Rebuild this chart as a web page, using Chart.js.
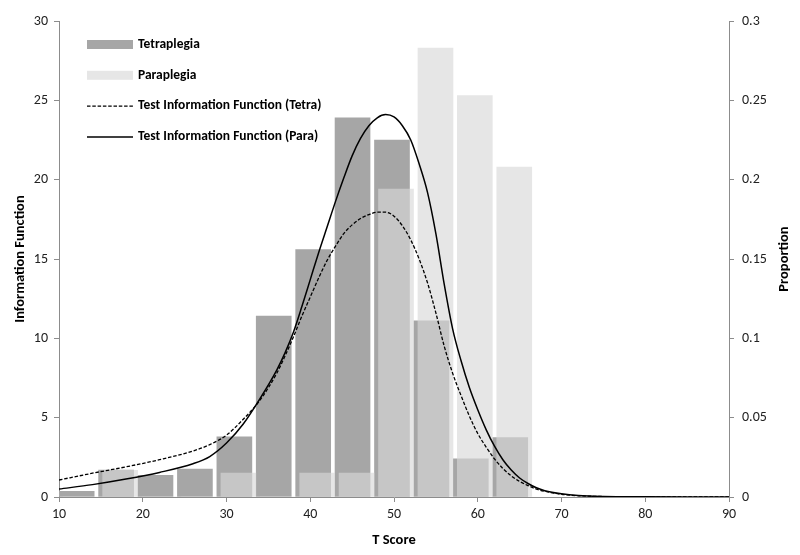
<!DOCTYPE html>
<html lang="en">

<head>
    <meta charset="UTF-8">
    <title>Test Information Function</title>
    <script src="https://cdn.jsdelivr.net/npm/chart.js"></script>
    <style>
        body { margin: 0; background: #fff; }
        .grafico { width: 800px; height: 555px; }
    </style>
</head>

<body>
    <div class="grafico">
        <canvas id="graficoInfo"></canvas>
    </div>
</body>
<script>
    // curvas de informacao (eixo esquerdo)
    var tScore = [10, 14, 18, 22, 26, 28, 30, 32, 34, 36, 37, 38, 39, 40, 41, 42, 43, 44, 45, 46, 47, 48, 49, 50, 51, 52, 53, 54, 55, 56, 57, 58, 59, 60, 61, 62, 63, 64, 65, 66, 67, 68, 70, 72, 75, 80, 85, 90]
    var infoTetra = [1.07, 1.5, 1.9, 2.35, 2.9, 3.3, 3.9, 4.9, 6.1, 7.8, 8.9, 10.1, 11.4, 12.6, 13.8, 14.9, 15.8, 16.6, 17.15, 17.55, 17.8, 17.95, 17.95, 17.7, 17.1, 16.2, 15.0, 13.5, 11.6, 9.5, 7.8, 6.4, 5.1, 4.0, 3.15, 2.4, 1.8, 1.33, 0.98, 0.72, 0.5, 0.36, 0.17, 0.08, 0.03, 0.01, 0.005, 0]
    var infoPara = [0.5, 0.78, 1.13, 1.55, 2.1, 2.55, 3.4, 4.6, 6.2, 8.0, 9.1, 10.4, 12.0, 13.7, 15.4, 17.0, 18.6, 20.1, 21.5, 22.6, 23.4, 23.9, 24.1, 23.95, 23.4, 22.5, 21.0, 19.2, 16.6, 13.4, 10.6, 8.6, 6.9, 5.5, 4.25, 3.2, 2.35, 1.7, 1.2, 0.85, 0.58, 0.4, 0.2, 0.09, 0.03, 0.01, 0.005, 0]

    // proporcoes por faixa de T score (eixo direito)
    var faixas = [12.35, 17.06, 21.76, 26.47, 31.18, 35.88, 40.59, 45.29, 50.0, 54.71, 59.41, 64.12]
    var propTetra = [0.0035, 0.017, 0.0137, 0.0176, 0.038, 0.114, 0.156, 0.239, 0.225, 0.111, 0.024, 0.0374]
    var propPara = [0, 0.0168, 0, 0, 0.015, 0, 0.015, 0.015, 0.194, 0.283, 0.253, 0.208]

    var nomes = ['Tetraplegia', 'Paraplegia', 'Test Information Function (Tetra)', 'Test Information Function (Para)']
    var tituloX = 'T Score'
    var tituloY = 'Information Function'
    var tituloY1 = 'Proportion'

    var fonte = "Carlito, Calibri, Lato, 'Open Sans', sans-serif"
    var cinzaEixo = '#8c8c8c'
    Chart.defaults.font.family = fonte
    Chart.defaults.color = '#222'

    function pontos(xs, ys) {
        return xs.map((x, i) => ({ x: x, y: ys[i] }))
    }

    // legenda dentro da area do grafico, como no original
    const legendaInterna = {
        id: 'legendaInterna',
        afterDraw(chart) {
            const ctx = chart.ctx
            ctx.save()
            ctx.font = 'bold 13.5px ' + fonte
            ctx.textBaseline = 'middle'
            chart.data.datasets.forEach((ds, i) => {
                const y = 44.5 + i * 30.8
                if (ds.type === 'bar') {
                    ctx.fillStyle = ds.backgroundColor
                    ctx.fillRect(87, y - 4.5, 46, 9)
                } else {
                    ctx.strokeStyle = ds.borderColor
                    ctx.lineWidth = ds.borderWidth
                    ctx.setLineDash(ds.borderDash || [])
                    ctx.beginPath()
                    ctx.moveTo(87, y)
                    ctx.lineTo(133, y)
                    ctx.stroke()
                    ctx.setLineDash([])
                }
                ctx.fillStyle = '#000'
                ctx.fillText(ds.label, 138, y)
            })
            // titulo do eixo direito, lido de baixo para cima
            const area = chart.chartArea
            ctx.translate(784, (area.top + area.bottom) / 2)
            ctx.rotate(-Math.PI / 2)
            ctx.textAlign = 'center'
            ctx.font = 'bold 14.5px ' + fonte
            ctx.fillText(tituloY1, 0, 0)
            ctx.restore()
        }
    }

    const ctx = document.getElementById('graficoInfo').getContext('2d')
    const graficoInfo = new Chart(ctx, {
        type: 'bar',
        data: {
            datasets: [{
                type: 'bar',
                label: nomes[0],
                data: pontos(faixas, propTetra),
                xAxisID: 'xTetra',
                yAxisID: 'y1',
                backgroundColor: '#a6a6a6',
                grouped: false,
                barThickness: 35,
                order: 3
            }, {
                type: 'bar',
                label: nomes[1],
                data: pontos(faixas, propPara),
                xAxisID: 'xPara',
                yAxisID: 'y1',
                backgroundColor: 'rgba(216, 216, 216, 0.64)',
                grouped: false,
                barThickness: 35,
                order: 2
            }, {
                type: 'line',
                label: nomes[2],
                data: pontos(tScore, infoTetra),
                xAxisID: 'x',
                yAxisID: 'y',
                borderColor: '#000',
                borderWidth: 1.3,
                borderDash: [3.5, 1.8],
                pointRadius: 0,
                cubicInterpolationMode: 'monotone',
                order: 1
            }, {
                type: 'line',
                label: nomes[3],
                data: pontos(tScore, infoPara),
                xAxisID: 'x',
                yAxisID: 'y',
                borderColor: '#000',
                borderWidth: 1.5,
                pointRadius: 0,
                cubicInterpolationMode: 'monotone',
                order: 0
            }]
        },
        options: {
            responsive: true,
            maintainAspectRatio: false,
            animation: false,
            layout: { padding: { top: 21, left: 0, right: 0, bottom: 0 } },
            plugins: {
                legend: { display: false },
                tooltip: { enabled: false }
            },
            scales: {
                x: {
                    type: 'linear',
                    offset: false,
                    min: 10,
                    max: 90,
                    ticks: { stepSize: 10, padding: 4, font: { size: 14 } },
                    grid: { offset: false, drawOnChartArea: false, drawTicks: true, tickLength: 5, color: cinzaEixo },
                    border: { color: cinzaEixo },
                    title: { display: true, text: tituloX, font: { size: 14.5, weight: 'bold' }, color: '#000', padding: { bottom: 6 } },
                    afterFit: (escala) => { escala.height = 58 }
                },
                xTetra: { type: 'linear', display: false, offset: false, min: 10.24, max: 90.24 },
                xPara: { type: 'linear', display: false, offset: false, min: 9.76, max: 89.76 },
                y: {
                    position: 'left',
                    min: 0,
                    max: 30,
                    ticks: { stepSize: 5, padding: 6, font: { size: 14 } },
                    grid: { drawOnChartArea: false, drawTicks: true, tickLength: 5, color: cinzaEixo },
                    border: { color: cinzaEixo },
                    title: { display: true, text: tituloY, font: { size: 14.5, weight: 'bold' }, color: '#000', padding: { top: 12 } },
                    afterFit: (escala) => { escala.width = 59 }
                },
                y1: {
                    position: 'right',
                    min: 0,
                    max: 0.3,
                    ticks: {
                        stepSize: 0.05,
                        padding: 8,
                        font: { size: 14 },
                        callback: (v) => String(+v.toFixed(2))
                    },
                    grid: { drawOnChartArea: false, drawTicks: true, tickLength: 5, color: cinzaEixo },
                    border: { color: cinzaEixo },
                    afterFit: (escala) => { escala.width = 71 }
                }
            }
        },
        plugins: [legendaInterna]
    })
</script>

</html>
